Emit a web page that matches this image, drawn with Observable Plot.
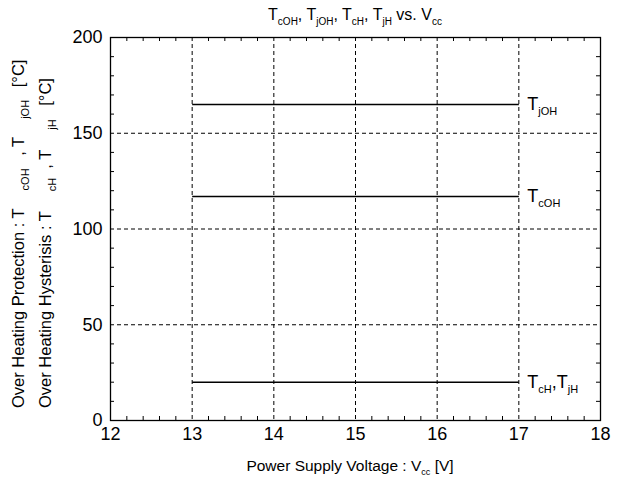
<!DOCTYPE html>
<html><head><meta charset="utf-8">
<script src="https://cdn.jsdelivr.net/npm/d3@7"></script>
<script src="https://cdn.jsdelivr.net/npm/@observablehq/plot@0.6"></script>
<style>
body{margin:0;background:#fff}
svg{font-family:"Liberation Sans",Arial,sans-serif}
</style>
</head><body><div id="chart"></div>
<script>
// ---- data ----
const seriesLabels = [
  [["T"],["jOH","sub"]],
  [["T"],["cOH","sub"]],
  [["T"],["cH","sub"],[","],["T"],["jH","sub"]]
];
const vccStart = [13, 13, 13];
const vccEnd = [17, 17, 17];
const temps = [165, 117, 20];
const xTicks = [12, 13, 14, 15, 16, 17, 18];
const yTicks = [0, 50, 100, 150, 200];
const xGrid = [13, 14, 15, 16, 17];
const yGrid = [50, 100, 150];
const xMinor = [12.2,12.4,12.6,12.8,13.2,13.4,13.6,13.8,14.2,14.4,14.6,14.8,15.2,15.4,15.6,15.8,16.2,16.4,16.6,16.8,17.2,17.4,17.6,17.8];
const yMinor = [10,20,30,40,60,70,80,90,110,120,130,140,160,170,180,190];
const titleParts = [["T"],["cOH","sub"],[", T"],["jOH","sub"],[", T"],["cH","sub"],[", T"],["jH","sub"],[" vs. V"],["cc","sub"]];
const xLabelParts = [["Power Supply Voltage : V"],["cc","sub"],[" [V]"]];
const yLabel1Parts = [["Over Heating Protection : T"],["cOH","sub"],[" , T"],["jOH","sub"],[" [°C]"]];
const yLabel2Parts = [["Over Heating Hysterisis : T"],["cH","sub"],[", T"],["jH","sub"],[" [°C]"]];

const W = 624, H = 477, mL = 110, mR = 24, mT = 37, mB = 57;
const innerH = H - mT - mB, innerW = W - mL - mR;
const tickLen = 4;
const rows = temps.map((t, i) => ({x1: vccStart[i], x2: vccEnd[i], y: t}));

const plot = Plot.plot({
  width: W, height: H,
  marginLeft: mL, marginRight: mR, marginTop: mT, marginBottom: mB,
  x: {domain: [12, 18]},
  y: {domain: [0, 200]},
  style: {fontFamily: '"Liberation Sans", Arial, sans-serif', fontSize: "18px", color: "#000", background: "#fff"},
  marks: [
    Plot.ruleX(xGrid, {stroke: "#000", strokeWidth: 1, strokeDasharray: "4,3"}),
    Plot.ruleY(yGrid, {stroke: "#000", strokeWidth: 1, strokeDasharray: "4,3"}),
    Plot.ruleX(xMinor, {stroke: "#000", insetTop: innerH - tickLen}),
    Plot.ruleX(xMinor, {stroke: "#000", insetBottom: innerH - tickLen}),
    Plot.ruleY(yMinor, {stroke: "#000", insetRight: innerW - tickLen}),
    Plot.ruleY(yMinor, {stroke: "#000", insetLeft: innerW - tickLen}),
    Plot.frame({stroke: "#000", strokeWidth: 1.3}),
    Plot.axisX(xTicks, {tickSize: 0, tickPadding: 7, label: null, fontSize: 18}),
    Plot.axisY(yTicks, {tickSize: 0, tickPadding: 8, label: null, fontSize: 18}),
    Plot.link(rows, {x1: "x1", x2: "x2", y1: "y", y2: "y", stroke: "#000", strokeWidth: 1.6})
  ]
});
document.getElementById("chart").appendChild(plot);

const svg = d3.select(plot);
const xs = plot.scale("x"), ys = plot.scale("y");

function rich(x, y, parts, size, subSize, anchor, rotate, gapBefore = 0, gapAfter = 0) {
  const t = svg.append("text")
    .attr("font-size", size)
    .attr("fill", "#000")
    .attr("text-anchor", anchor);
  if (rotate) t.attr("transform", `translate(${x},${y}) rotate(-90)`);
  else t.attr("x", x).attr("y", y);
  const shift = subSize * 0.45;
  let prevSub = false;
  parts.forEach(([s, k]) => {
    const sp = t.append("tspan").text(s);
    if (k === "sub") {
      sp.attr("font-size", subSize).attr("dy", shift);
      if (gapBefore) sp.attr("dx", gapBefore);
      prevSub = true;
    } else {
      if (prevSub) {
        sp.attr("dy", -shift);
        if (gapAfter) sp.attr("dx", gapAfter);
      }
      prevSub = false;
    }
  });
  return t;
}

// Series labels
temps.forEach((t, i) => {
  rich(xs.apply(vccEnd[i]) + 9, ys.apply(t) + 6, seriesLabels[i], 18, 11, "start", false);
});

// Title
rich((mL + W - mR) / 2, 20, titleParts, 16, 10, "middle", false);
// X label
rich(350, 471, xLabelParts, 15.5, 9, "middle", false);
// Y labels
rich(24, 408, yLabel1Parts, 16.5, 11, "start", true, 18, 8);
rich(51, 408, yLabel2Parts, 16.5, 11, "start", true, 20, 9);
</script>
</body></html>
